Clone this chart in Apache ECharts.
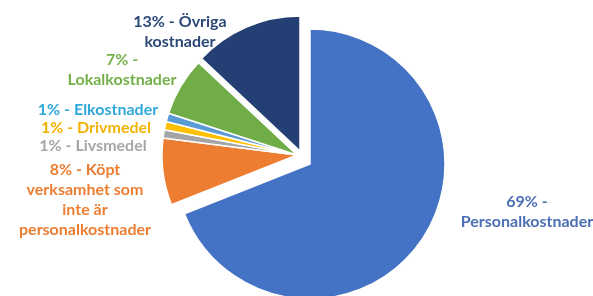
<!DOCTYPE html>
<html>
<head>
  <meta charset="utf-8" />
  <title></title>
  <script src="https://cdn.jsdelivr.net/npm/echarts@6/dist/echarts.min.js"></script>
  <style>
    html, body { margin: 0; padding: 0; background: #fff; }
  </style>
</head>
<body>
  <div id="pie" style="width: 593px;height:296px;"></div>
  <script type="text/javascript">
    // andelar i procent, medsols från klockan 12
    var categories = ['Personalkostnader', 'Köpt verksamhet som inte är personalkostnader',
      'Livsmedel', 'Drivmedel', 'Elkostnader', 'Lokalkostnader', 'Övriga kostnader'];
    var shares = [69, 8, 1, 1, 1, 7, 13];
    var labelTexts = ['69% -\nPersonalkostnader', '8% - Köpt\nverksamhet som\ninte är\npersonalkostnader',
      '1% - Livsmedel', '1% - Drivmedel', '1% - Elkostnader', '7% -\nLokalkostnader', '13% - Övriga\nkostnader'];

    var sliceColors = ['#4472c4', '#ed7d31', '#a5a5a5', '#ffc000', '#5b9bd5', '#70ad47', '#233f73'];
    var textColors = ['#4a6fb4', '#ed7d31', '#a6a6a6', '#f2b200', '#2fa9dc', '#74b04a', '#2c4878'];
    var labelPos = [[527, 212], [85, 200], [93, 146], [96, 128], [98, 110], [122, 70], [180, 32]];

    // utskjutna tårtbitar: varje grupp ritas med egen mittpunkt
    var groups = [
      { items: [0], center: [310, 164] },
      { items: [1, 2, 3, 4, 5], center: [297, 155] },
      { items: [6], center: [300, 151] }
    ];

    var pieChart = echarts.init(document.getElementById('pie'));

    var series = groups.map(function (g) {
      return {
        type: 'pie',
        center: g.center,
        radius: 135,
        startAngle: 90,
        avoidLabelOverlap: false,
        label: {
          show: true,
          position: 'outside',
          fontFamily: 'Lato',
          fontWeight: 'bold',
          fontSize: 16,
          lineHeight: 20,
          align: 'center',
          formatter: function (p) { return labelTexts[p.dataIndex]; }
        },
        labelLine: { show: false },
        labelLayout: function (p) {
          return {
            x: labelPos[p.dataIndex][0],
            y: labelPos[p.dataIndex][1],
            align: 'center',
            verticalAlign: 'middle'
          };
        },
        emphasis: { disabled: true },
        data: categories.map(function (c, i) {
          var shown = g.items.indexOf(i) >= 0;
          return {
            name: c,
            value: shares[i],
            itemStyle: shown
              ? { color: sliceColors[i], borderColor: '#fff', borderWidth: 1.5 }
              : { color: 'rgba(0,0,0,0)', borderWidth: 0 },
            label: { show: shown, color: textColors[i] }
          };
        })
      };
    });

    pieChart.setOption({ animation: false, series: series });
  </script>
</body>
</html>
